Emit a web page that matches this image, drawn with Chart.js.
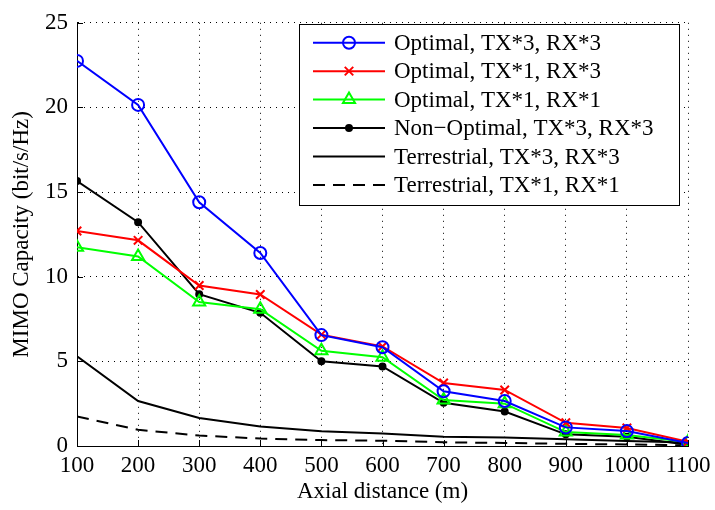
<!DOCTYPE html>
<html>
<head>
<meta charset="utf-8">
<script src="https://cdn.jsdelivr.net/npm/chart.js@4"></script>
<style>
  html, body { margin: 0; padding: 0; background: #fff; }
  #wrap { width: 715px; height: 510px; }
</style>
</head>
<body>
<div id="wrap"><canvas id="canvas1" width="715" height="510"></canvas></div>
<script>
const distances = [100, 200, 300, 400, 500, 600, 700, 800, 900, 1000, 1100];
const optimal33 = [22.75, 20.15, 14.4, 11.4, 6.55, 5.83, 3.23, 2.66, 1.1, 0.88, 0.18];
const optimal13 = [12.7, 12.15, 9.48, 8.95, 6.58, 5.88, 3.72, 3.31, 1.37, 1.06, 0.25];
const optimal11 = [11.74, 11.2, 8.5, 8.08, 5.62, 5.24, 2.72, 2.5, 0.82, 0.65, 0.24];
const nonOptimal33 = [15.65, 13.22, 8.97, 7.87, 5.0, 4.7, 2.55, 2.04, 0.69, 0.54, 0.07];
const terrestrial33 = [5.3, 2.66, 1.66, 1.15, 0.87, 0.74, 0.54, 0.5, 0.4, 0.3, 0.2];
const terrestrial11 = [1.74, 0.96, 0.62, 0.44, 0.35, 0.31, 0.22, 0.18, 0.13, 0.09, 0.04];
const seriesNames = [
  'Optimal, TX*3, RX*3',
  'Optimal, TX*1, RX*3',
  'Optimal, TX*1, RX*1',
  'Non\u2212Optimal, TX*3, RX*3',
  'Terrestrial, TX*3, RX*3',
  'Terrestrial, TX*1, RX*1'
];
const xTicks = distances;
const yTicks = [0, 5, 10, 15, 20, 25];

const FONT = '"Liberation Serif", "Times New Roman", serif';
const FS = 23;

const pts = arr => arr.map((v, i) => ({x: distances[i], y: v}));

// inward tick marks like matlab
const innerTicks = {
  id: 'innerTicks',
  afterDraw(chart) {
    const ctx = chart.ctx;
    const xs = chart.scales.x, ys = chart.scales.y;
    const a = chart.chartArea;
    ctx.save();
    ctx.strokeStyle = '#000';
    ctx.lineWidth = 1;
    ctx.beginPath();
    xs.ticks.forEach(t => {
      const px = Math.round(xs.getPixelForValue(t.value)) + 0.5;
      ctx.moveTo(px, a.bottom);
      ctx.lineTo(px, a.bottom - 6);
    });
    ys.ticks.forEach(t => {
      const py = Math.round(ys.getPixelForValue(t.value)) + 0.5;
      ctx.moveTo(a.left, py);
      ctx.lineTo(a.left + 6, py);
    });
    ctx.stroke();
    ctx.restore();
  }
};

// boxed legend drawn on canvas
const boxLegend = {
  id: 'boxLegend',
  afterDraw(chart) {
    const ctx = chart.ctx;
    const bx = 299, by = 24, bw = 380, bh = 181;
    const rowH = 28.45;
    ctx.save();
    ctx.fillStyle = '#fff';
    ctx.fillRect(bx, by, bw, bh);
    ctx.strokeStyle = '#000';
    ctx.lineWidth = 1;
    ctx.strokeRect(bx + 0.5, by + 0.5, bw, bh);
    chart.data.datasets.forEach((ds, i) => {
      const y = by + 18.7 + i * rowH;
      ctx.strokeStyle = ds.borderColor;
      ctx.lineWidth = ds.borderWidth;
      ctx.setLineDash(ds.borderDash || []);
      ctx.beginPath();
      ctx.moveTo(313, y);
      ctx.lineTo(385, y);
      ctx.stroke();
      ctx.setLineDash([]);
      if (ds.pointRadius > 0) {
        ctx.fillStyle = ds.pointBackgroundColor;
        ctx.strokeStyle = ds.pointBorderColor;
        ctx.lineWidth = ds.pointBorderWidth;
        Chart.helpers.drawPoint(ctx, {
          pointStyle: ds.pointStyle,
          radius: ds.pointRadius,
          rotation: 0,
          borderWidth: ds.pointBorderWidth
        }, 349, y);
      }
      ctx.fillStyle = '#000';
      ctx.font = FS + 'px ' + FONT;
      ctx.textBaseline = 'middle';
      ctx.textAlign = 'left';
      ctx.fillText(ds.label, 394, y + 1);
    });
    ctx.restore();
  }
};

const mk = (label, data, color, style, radius, extra) => Object.assign({
  label: label,
  data: pts(data),
  borderColor: color,
  borderWidth: 2,
  pointStyle: style,
  pointRadius: radius,
  pointHoverRadius: radius,
  pointBorderColor: color,
  pointBackgroundColor: 'rgba(0,0,0,0)',
  pointBorderWidth: 2,
  tension: 0,
  fill: false
}, extra || {});

const canvas1 = document.getElementById('canvas1');

new Chart(canvas1, {
  type: 'line',
  data: {
    datasets: [
      mk(seriesNames[0], optimal33, '#0000ff', 'circle', 6),
      mk(seriesNames[1], optimal13, '#ff0000', 'crossRot', 6),
      mk(seriesNames[2], optimal11, '#00ff00', 'triangle', 7),
      mk(seriesNames[3], nonOptimal33, '#000000', 'circle', 3, {pointBackgroundColor: '#000'}),
      mk(seriesNames[4], terrestrial33, '#000000', 'circle', 0),
      mk(seriesNames[5], terrestrial11, '#000000', 'circle', 0, {borderDash: [12, 8]})
    ]
  },
  options: {
    responsive: false,
    animation: false,
    devicePixelRatio: 1,
    layout: { padding: { left: 0, right: 27, top: 13, bottom: 0 } },
    plugins: {
      legend: { display: false },
      tooltip: { enabled: false }
    },
    scales: {
      x: {
        type: 'linear',
        min: 100,
        max: 1100,
        afterBuildTicks: s => { s.ticks = xTicks.map(v => ({value: v})); },
        afterFit: s => { s.height = 64; s.paddingLeft = 0; s.paddingRight = 0; },
        ticks: {
          color: '#000',
          font: { family: FONT, size: FS },
          padding: 6,
          maxRotation: 0,
          callback: v => String(v)
        },
        grid: {
          color: '#000',
          lineWidth: 1,
          drawTicks: false
        },
        border: { display: true, color: '#000', width: 1, dash: [1, 5] },
        title: {
          display: true,
          text: 'Axial distance (m)',
          color: '#000',
          font: { family: FONT, size: FS },
          padding: { top: 0, bottom: 4 }
        }
      },
      y: {
        type: 'linear',
        min: 0,
        max: 25,
        afterBuildTicks: s => { s.ticks = yTicks.map(v => ({value: v})); },
        afterFit: s => { s.width = 77; },
        ticks: {
          color: '#000',
          font: { family: FONT, size: FS },
          padding: 9,
          callback: v => String(v)
        },
        grid: {
          color: '#000',
          lineWidth: 1,
          drawTicks: false
        },
        border: { display: true, color: '#000', width: 1, dash: [1, 5] },
        title: {
          display: true,
          text: 'MIMO Capacity (bit/s/Hz)',
          color: '#000',
          font: { family: FONT, size: FS },
          padding: { top: 8, bottom: 0 }
        }
      }
    }
  },
  plugins: [innerTicks, boxLegend]
});
</script>
</body>
</html>
